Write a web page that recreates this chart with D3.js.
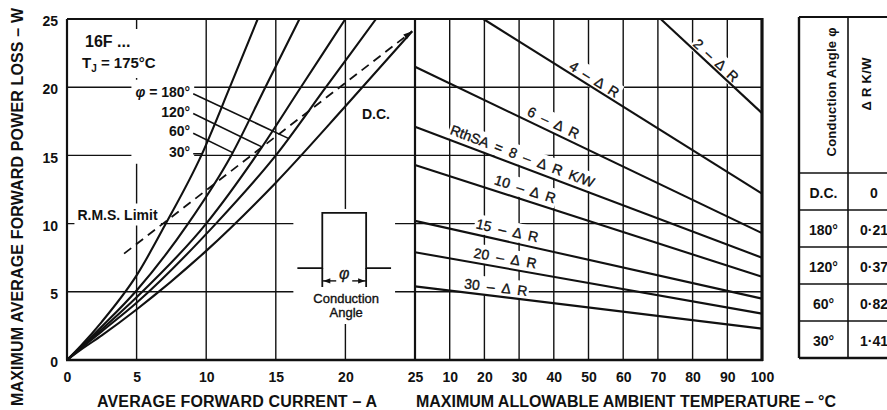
<!DOCTYPE html>
<html><head><meta charset="utf-8">
<script src="https://cdn.jsdelivr.net/npm/d3@7"></script>
<style>
body{margin:0;background:#fff}
svg{display:block}
text{font-family:"Liberation Sans",Arial,Helvetica,sans-serif;fill:#111}
</style>
</head><body>
<svg id="c" width="887" height="410"></svg>
<script>
// ---------------- DATA ----------------
const currentTicks = [0, 5, 10, 15, 20, 25];
const powerTicks = [0, 5, 10, 15, 20, 25];
const tempTicks = [10, 20, 30, 40, 50, 60, 70, 80, 90, 100];

// average forward current (A) -> power loss (W), per conduction angle
const curve30  = [[0,0],[1,1.05],[2.5,2.8],[5,6.2],[7.1,10],[9.65,15],[11.7,20],[13.7,25]];
const curve60  = [[0,0],[1,0.95],[2.5,2.45],[5,5.1],[8.7,10],[11.8,15],[14.25,20],[16.7,25]];
const curve120 = [[0,0],[1,0.9],[2.5,2.25],[5,4.6],[10,10],[13.6,15],[16.8,20],[20,25]];
const curve180 = [[0,0],[1,0.85],[2.5,2.1],[5,4.2],[10.7,10],[15,15],[18.6,20],[22.2,25]];
const curveDC  = [[0,0],[1,0.75],[2.5,1.8],[5,3.7],[10,8.0],[15,13.0],[20,18.6],[24.8,24.1]];
const rmsLimit = [[4.1,7.8],[24.8,24.1]];
const angleNames = ["30°","60°","120°","180°"];

// ambient temperature (°C) vs power (W) for RthSA lines
const rthValues = ["2","4","6","8","10","15","20","30"];
const rthStartTemp  = [70.8, 19.7, 0, 0, 0, 0, 0, 0];
const rthStartPower = [25, 25, 21.5, 17.1, 14.3, 10.2, 7.9, 5.4];
const rthEndTemp    = [100, 100, 100, 100, 100, 100, 100, 100];
const rthEndPower   = [18.1, 12.2, 9.3, 7.5, 6.1, 4.5, 3.4, 2.3];

// table
const tableAngles = ["D.C.", "180°", "120°", "60°", "30°"];
const tableDeltaR = ["0", "0·21", "0·37", "0·82", "1·41"];

// ---------------- LAYOUT ----------------
const layout = {
  leaderEndA: [9.7, 11.9, 14.0, 15.9],
  labelBaseW: [14.9, 16.4, 17.85, 19.3],
  labelRightA: 8.85,
  rthLabelT: [85.3, 50.5, 38.7, 29.9, 30.8, 25.9, 25.5, 23.0],
  rthLabelOff: [7.5, 8, 9.5, 10.5, 11, 11, 10, 9]
};

const svg = d3.select("#c");
svg.append("rect").attr("width", 887).attr("height", 410).attr("fill", "#fff");

const xL = d3.scaleLinear().domain([0, 25]).range([67, 415]);
const yP = d3.scaleLinear().domain([0, 25]).range([360, 19]);
const xR = d3.scaleLinear().domain([0, 100]).range([415, 762]);

const gGrid = svg.append("g").attr("stroke", "#111").attr("stroke-width", 1.4);
const gBg = svg.append("g");
const gMarks = svg.append("g");
const gText = svg.append("g");

// grid
currentTicks.filter(d => d > 0 && d < 25).forEach(d => {
  gGrid.append("line").attr("x1", xL(d)).attr("x2", xL(d)).attr("y1", yP(0)).attr("y2", yP(25));
});
tempTicks.filter(d => d < 100).forEach(d => {
  gGrid.append("line").attr("x1", xR(d)).attr("x2", xR(d)).attr("y1", yP(0)).attr("y2", yP(25));
});
powerTicks.filter(d => d > 0 && d < 25).forEach(d => {
  gGrid.append("line").attr("x1", xL(0)).attr("x2", xR(100)).attr("y1", yP(d)).attr("y2", yP(d));
});

function txt(sel, x, y, s, o = {}) {
  const t = sel.append("text").attr("x", x).attr("y", y).text(s)
    .attr("font-size", o.size || 14)
    .attr("font-weight", o.weight || "bold")
    .attr("text-anchor", o.anchor || "start");
  if (o.style) t.attr("font-style", o.style);
  if (o.ws) t.style("word-spacing", o.ws + "px");
  if (o.len) t.attr("textLength", o.len).attr("lengthAdjust", "spacing");
  if (o.sw) t.attr("stroke", "#111").attr("stroke-width", o.sw);
  return t;
}
function bboxOf(nodes) {
  let x0 = 1e9, y0 = 1e9, x1 = -1e9, y1 = -1e9;
  nodes.forEach(n => { const b = n.getBBox(); x0 = Math.min(x0, b.x); y0 = Math.min(y0, b.y); x1 = Math.max(x1, b.x + b.width); y1 = Math.max(y1, b.y + b.height); });
  return {x: x0, y: y0, w: x1 - x0, h: y1 - y0};
}
function whiteout(sel, b, pad) {
  sel.append("rect").attr("x", b.x - pad).attr("y", b.y - pad).attr("width", b.w + 2 * pad).attr("height", b.h + 2 * pad).attr("fill", "#fff");
}
function arrowHead(g, x, y, ang, len = 8, w = 3) {
  const bx = x - len * Math.cos(ang), by = y - len * Math.sin(ang);
  const nx = -Math.sin(ang) * w, ny = Math.cos(ang) * w;
  g.append("path").attr("d", `M${x},${y}L${bx + nx},${by + ny}L${bx - nx},${by - ny}Z`).attr("fill", "#111");
}
function interp(curve, a) {
  for (let i = 1; i < curve.length; i++) {
    if (a <= curve[i][0]) { const [a0, p0] = curve[i - 1], [a1, p1] = curve[i]; return p0 + (p1 - p0) * (a - a0) / (a1 - a0); }
  }
  return curve[curve.length - 1][1];
}

// ---------- left panel annotations ----------
const t16 = txt(gText, 85, 47, "16F ...", {size: 16});
const tTj = gText.append("text").attr("x", 82).attr("y", 68).attr("font-size", 15).attr("font-weight", "bold");
tTj.append("tspan").text("T");
tTj.append("tspan").text("J").attr("font-size", 10).attr("dy", 4);
tTj.append("tspan").text(" = 175°C").attr("dy", -4);
whiteout(gBg, bboxOf([t16.node(), tTj.node()]), 4);

const phiLabels = [];
angleNames.forEach((n, i) => {
  let t;
  if (n === "180°") {
    t = gText.append("text").attr("x", xL(layout.labelRightA)).attr("y", yP(layout.labelBaseW[i]))
      .attr("text-anchor", "end").attr("font-size", 14).attr("font-weight", "bold");
    t.append("tspan").text("φ").attr("font-style", "italic");
    t.append("tspan").text(" = 180°");
  } else {
    t = txt(gText, xL(layout.labelRightA), yP(layout.labelBaseW[i]), n, {anchor: "end", size: 14});
  }
  phiLabels.push(t.node());
});
whiteout(gBg, bboxOf(phiLabels), 4);

const tDC = txt(gText, 362, yP(17.65), "D.C.", {size: 14});
whiteout(gBg, bboxOf([tDC.node()]), 3);
const tRms = txt(gText, xL(0.75), yP(10.3), "R.M.S. Limit", {size: 14});
whiteout(gBg, bboxOf([tRms.node()]), 3);

// inset pulse (conduction angle symbol)
const inset = {base: 6.74, top: 10.78, a0: 16.55, a1: 18.34, a2: 21.49, a3: 23.28, dim: 5.8, tickLow: 5.35};
const gInset = gMarks.append("g").attr("stroke", "#111").attr("stroke-width", 1.8).attr("fill", "none");
gInset.append("path").attr("d",
  `M${xL(inset.a0)},${yP(inset.base)}H${xL(inset.a1)}V${yP(inset.top)}H${xL(inset.a2)}V${yP(inset.base)}H${xL(inset.a3)}`);
gInset.append("line").attr("x1", xL(inset.a1)).attr("x2", xL(inset.a1)).attr("y1", yP(inset.base)).attr("y2", yP(inset.tickLow));
gInset.append("line").attr("x1", xL(inset.a2)).attr("x2", xL(inset.a2)).attr("y1", yP(inset.base)).attr("y2", yP(inset.tickLow));
const xmid = (xL(inset.a1) + xL(inset.a2)) / 2;
gInset.append("line").attr("x1", xL(inset.a1)).attr("x2", xmid - 8).attr("y1", yP(inset.dim)).attr("y2", yP(inset.dim)).attr("stroke-width", 1.4);
gInset.append("line").attr("x1", xmid + 8).attr("x2", xL(inset.a2)).attr("y1", yP(inset.dim)).attr("y2", yP(inset.dim)).attr("stroke-width", 1.4);
arrowHead(gMarks, xL(inset.a1) + 1, yP(inset.dim), Math.PI, 7, 2.6);
arrowHead(gMarks, xL(inset.a2) - 1, yP(inset.dim), 0, 7, 2.6);
const tPhi = txt(gText, xmid, yP(inset.dim) - 2, "φ", {anchor: "middle", size: 16, weight: "normal", style: "italic", sw: 0.3});
const tCond = txt(gText, xmid + 2, 303, "Conduction", {anchor: "middle", size: 13, weight: "normal", sw: 0.35});
const tAng = txt(gText, xmid + 2, 317, "Angle", {anchor: "middle", size: 13, weight: "normal", sw: 0.35});
whiteout(gBg, {x: xL(inset.a0), y: yP(inset.top), w: xL(inset.a3) - xL(inset.a0), h: 320 - yP(inset.top)}, 4);

// ---------- curves ----------
const clipId = "clipL";
svg.append("defs").append("clipPath").attr("id", clipId).append("rect")
  .attr("x", xL(0)).attr("y", yP(25)).attr("width", xL(25) - xL(0)).attr("height", yP(0) - yP(25));
const line = d3.line().x(d => xL(d[0])).y(d => yP(d[1])).curve(d3.curveMonotoneX);
const gCurves = gMarks.append("g").attr("clip-path", `url(#${clipId})`);
[curve30, curve60, curve120, curve180, curveDC].forEach(c => {
  gCurves.append("path").attr("d", line(c)).attr("fill", "none").attr("stroke", "#111").attr("stroke-width", 2.1);
});
gMarks.append("path").attr("d", d3.line().x(d => xL(d[0])).y(d => yP(d[1]))(rmsLimit))
  .attr("fill", "none").attr("stroke", "#111").attr("stroke-width", 1.8).attr("stroke-dasharray", "9,6");
{
  const [p0, p1] = rmsLimit;
  const ang = Math.atan2(yP(p1[1]) - yP(p0[1]), xL(p1[0]) - xL(p0[0]));
  arrowHead(gMarks, xL(p1[0]), yP(p1[1]), ang, 9, 3);
}
// leader lines
[curve30, curve60, curve120, curve180].forEach((c, i) => {
  const a = layout.leaderEndA[i];
  gMarks.append("line")
    .attr("x1", xL(layout.labelRightA) + 3).attr("y1", yP(layout.labelBaseW[i]) - 3)
    .attr("x2", xL(a)).attr("y2", yP(interp(c, a)))
    .attr("stroke", "#111").attr("stroke-width", 1.6);
});

// ---------- right panel lines ----------
rthValues.forEach((r, i) => {
  const x1 = xR(rthStartTemp[i]), y1 = yP(rthStartPower[i]);
  const x2 = xR(rthEndTemp[i]), y2 = yP(rthEndPower[i]);
  gMarks.append("line").attr("x1", x1).attr("y1", y1).attr("x2", x2).attr("y2", y2)
    .attr("stroke", "#111").attr("stroke-width", 2.1);
  const T = layout.rthLabelT[i];
  const f = (T - rthStartTemp[i]) / (rthEndTemp[i] - rthStartTemp[i]);
  const P = rthStartPower[i] + f * (rthEndPower[i] - rthStartPower[i]);
  const ang = Math.atan2(y2 - y1, x2 - x1) * 180 / Math.PI;
  const tr = `translate(${xR(T)},${yP(P)}) rotate(${ang})`;
  const gt = gText.append("g").attr("transform", tr);
  const gb = gBg.append("g").attr("transform", tr);
  const s = r === "8" ? "RthSA = 8 – Δ R K/W" : `${r} – Δ R`;
  const t = txt(gt, 0, -layout.rthLabelOff[i] + 5, s, {anchor: "middle", size: 14, weight: "normal", ws: 3.5, sw: 0.35});
  whiteout(gb, bboxOf([t.node()]), 1.5);
});

// ---------- frame ----------
const gFrame = gMarks.append("g").attr("stroke", "#111");
gFrame.append("line").attr("x1", xL(0)).attr("x2", xR(100)).attr("y1", yP(25)).attr("y2", yP(25)).attr("stroke-width", 2.2);
gFrame.append("line").attr("x1", xL(0) - 1).attr("x2", xR(100) + 1).attr("y1", yP(0)).attr("y2", yP(0)).attr("stroke-width", 2.4);
gFrame.append("line").attr("x1", xL(0)).attr("x2", xL(0)).attr("y1", yP(25)).attr("y2", yP(0)).attr("stroke-width", 2.2);
gFrame.append("line").attr("x1", xL(25)).attr("x2", xL(25)).attr("y1", yP(25)).attr("y2", yP(0)).attr("stroke-width", 2.2);
gFrame.append("line").attr("x1", xR(100)).attr("x2", xR(100)).attr("y1", yP(25) - 1).attr("y2", yP(0) + 1).attr("stroke-width", 3.2);

// ---------- axes ----------
const axL = svg.append("g").attr("transform", `translate(0,${yP(0)})`)
  .call(d3.axisBottom(xL).tickValues(currentTicks).tickSize(0).tickPadding(12));
const axR = svg.append("g").attr("transform", `translate(0,${yP(0)})`)
  .call(d3.axisBottom(xR).tickValues(tempTicks).tickSize(0).tickPadding(12));
const axY = svg.append("g").attr("transform", `translate(${xL(0)},0)`)
  .call(d3.axisLeft(yP).tickValues(powerTicks).tickSize(0).tickPadding(9));
[axL, axR, axY].forEach(a => {
  a.select(".domain").remove();
  a.selectAll("text").attr("font-size", 14).attr("font-weight", "bold").attr("fill", "#111")
    .attr("font-family", "'Liberation Sans',Arial,sans-serif");
});
axY.selectAll("text").attr("dy", "0.48em");

// titles
txt(svg, 237, 407, "AVERAGE FORWARD CURRENT – A", {anchor: "middle", size: 16, len: 280});
txt(svg, 626, 407, "MAXIMUM ALLOWABLE AMBIENT TEMPERATURE – °C", {anchor: "middle", size: 16, len: 420});
svg.append("g").attr("transform", "translate(23,207) rotate(-90)")
  .call(g => txt(g, 0, 0, "MAXIMUM AVERAGE FORWARD POWER LOSS – W", {anchor: "middle", size: 16, len: 398}));

// ---------- table ----------
const tX0 = 799, tX1 = 848, tX2 = 910, tTop = 17, tHead = 173, tBot = 358;
const rowY = d3.scaleBand().domain(tableAngles).range([tHead, tBot]);
const gT = svg.append("g").attr("stroke", "#111");
gT.append("line").attr("x1", tX0).attr("x2", tX2).attr("y1", tTop).attr("y2", tTop).attr("stroke-width", 2.2);
gT.append("line").attr("x1", tX0).attr("x2", tX2).attr("y1", tBot).attr("y2", tBot).attr("stroke-width", 2.6);
gT.append("line").attr("x1", tX0).attr("x2", tX0).attr("y1", tTop).attr("y2", tBot).attr("stroke-width", 2.4);
gT.append("line").attr("x1", tX1).attr("x2", tX1).attr("y1", tTop).attr("y2", tBot).attr("stroke-width", 1.6);
tableAngles.forEach(a => {
  gT.append("line").attr("x1", tX0).attr("x2", tX2).attr("y1", rowY(a)).attr("y2", rowY(a)).attr("stroke-width", 1.6);
});
tableAngles.forEach((a, i) => {
  const cy = rowY(a) + rowY.bandwidth() / 2;
  txt(svg, (tX0 + tX1) / 2, cy + 6, a, {anchor: "middle", size: 14});
  txt(svg, 874, cy + 6, tableDeltaR[i], {anchor: "middle", size: 14});
});
svg.append("g").attr("transform", "translate(836,92) rotate(-90)")
  .call(g => txt(g, 0, 0, "Conduction Angle φ", {anchor: "middle", size: 13, len: 129}));
svg.append("g").attr("transform", "translate(871,84) rotate(-90)")
  .call(g => txt(g, 0, 0, "Δ R   K/W", {anchor: "middle", size: 13, len: 53}));
</script>
</body></html>
